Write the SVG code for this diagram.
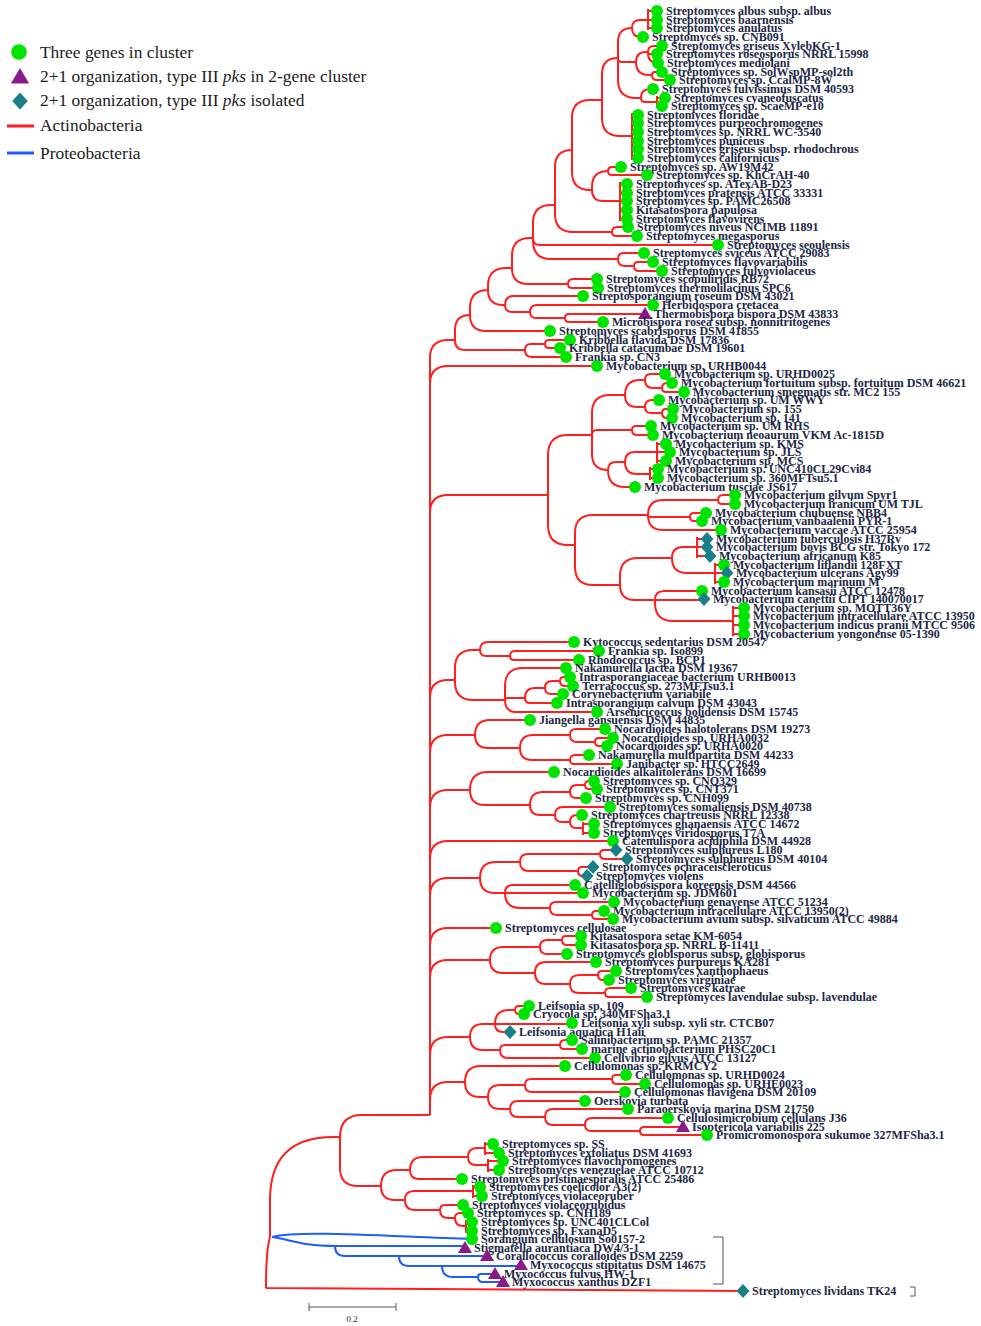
<svg xmlns="http://www.w3.org/2000/svg" xmlns:xlink="http://www.w3.org/1999/xlink" width="981" height="1326" viewBox="0 0 981 1326">
<style>
text{font-family:"Liberation Serif",serif;font-weight:bold;font-size:12px;fill:#1d2846}
.lg{font-weight:normal;font-size:17.4px;fill:#222}
.r{fill:none;stroke:#ff1f1f;stroke-width:2}
.b{fill:none;stroke:#1e5cff;stroke-width:2}
.k{fill:none;stroke:#555;stroke-width:1}
</style>
<defs>
<circle id="g" r="6" fill="#00e400"/>
<path id="t" d="M0,-7 L7,5 L-7,5Z" fill="#8b1a89"/>
<path id="d" d="M0,-7 L6.5,0 L0,7 L-6.5,0Z" fill="#1b7f87"/>
</defs>
<rect width="981" height="1326" fill="#fff"/>
<g id="legend">
<use href="#g" x="19" y="52" transform="translate(19 52) scale(1.3) translate(-19 -52)"/>
<text class="lg" x="40" y="58">Three genes in cluster</text>
<use href="#t" x="20" y="77" transform="translate(20 77) scale(1.3) translate(-20 -77)"/>
<text class="lg" x="40" y="82">2+1 organization, type III <tspan font-style="italic">pks</tspan> in 2-gene cluster</text>
<use href="#d" x="20" y="101" transform="translate(20 101) scale(1.2) translate(-20 -101)"/>
<text class="lg" x="40" y="106">2+1 organization, type III <tspan font-style="italic">pks</tspan> isolated</text>
<path d="M7 126 H34" stroke="#ff1f1f" stroke-width="3"/>
<text class="lg" x="40" y="131">Actinobacteria</text>
<path d="M7 153 H34" stroke="#1e5cff" stroke-width="3"/>
<text class="lg" x="40" y="159">Proteobacteria</text>
</g>
<g id="connectors">
<path class="r" d="M648 9 V30 M648 11 H657 M648 20 H657 M648 28 H657 M632 28 Q632 20 640 20 H648 M632 28 Q632 37 641 37 H643"/>
<path class="r" d="M648 52 Q648 46 654 46 H662 M648 52 Q648 54 650 54 H657 M648 52 V53 Q648 63 658 63 M652 75 Q652 72 655 72 H662 M652 75 Q652 80 657 80 H670 M636 62 Q636 52 646 52 H648 M636 62 Q636 75 649 75 H652"/>
<path class="r" d="M657 96 V108 M657 98 H665 M657 106 H662 M641 98 Q641 89 650 89 H653 M641 98 Q641 102 645 102 H657"/>
<path class="r" d="M618 58 V42 Q618 28 632 28 M618 58 Q618 62 622 62 H636 M618 58 V80 Q618 98 636 98 H641"/>
<path class="r" d="M632 113 V160 M632 115 H638 M632 123 H638 M632 132 H638 M632 141 H638 M632 149 H638 M632 158 H638 M602 100 V74 Q602 58 618 58 M602 100 V118 Q602 136 620 136 H632"/>
<path class="r" d="M608 171 Q608 167 612 167 H621 M608 171 Q608 175 612 175 H647 M620 182 V221 M620 184 H627 M620 193 H627 M620 201 H627 M620 210 H627 M620 219 H627 M592 190 V187 Q592 171 608 171 M592 190 Q592 201 603 201 H620"/>
<path class="r" d="M572 150 V118 Q572 100 590 100 H602 M572 150 V172 Q572 190 590 190 H592"/>
<path class="r" d="M612 232 Q612 227 617 227 H628 M612 232 Q612 236 616 236 H637 M555 205 V167 Q555 150 572 150 M555 205 V214 Q555 232 573 232 H612"/>
<path class="r" d="M634 266 Q634 262 638 262 H653 M634 266 Q634 271 639 271 H662 M618 259 Q618 253 624 253 H644 M618 259 Q618 266 625 266 H634"/>
<path class="r" d="M533 238 V223 Q533 205 551 205 H555 M533 238 Q533 245 540 245 H718 M533 238 V241 Q533 259 551 259 H618"/>
<path class="r" d="M568 284 Q568 279 573 279 H597 M568 284 Q568 288 572 288 H598 M512 268 V256 Q512 238 530 238 H533 M512 268 Q512 284 528 284 H568"/>
<path class="r" d="M565 318 Q565 314 569 314 H645 M565 318 Q565 322 569 322 H603 M530 312 Q530 305 537 305 H653 M530 312 Q530 318 536 318 H565 M505 305 Q505 296 514 296 H583 M505 305 Q505 312 512 312 H530"/>
<path class="r" d="M488 290 V286 Q488 268 506 268 H512 M488 290 Q488 305 503 305 H505 M470 315 V308 Q470 290 488 290 M470 315 Q470 331 486 331 H550"/>
<path class="r" d="M545 344 Q545 340 549 340 H570 M545 344 Q545 348 549 348 H560 M525 350 Q525 344 531 344 H545 M525 350 Q525 357 532 357 H566 M455 340 V330 Q455 315 470 315 M455 340 Q455 350 465 350 H525"/>
<path class="r" d="M662 388 Q662 383 667 383 H672 M662 388 Q662 392 666 392 H684 M645 380 Q645 374 651 374 H665 M645 380 Q645 388 653 388 H662 M662 413 Q662 409 666 409 H673 M662 413 Q662 418 667 418 H672 M645 407 Q645 400 652 400 H659 M645 407 Q645 413 651 413 H662 M625 395 Q625 380 640 380 H645 M625 395 Q625 407 637 407 H645"/>
<path class="r" d="M632 430 Q632 426 636 426 H651 M632 430 Q632 435 637 435 H653 M657 442 V463 M657 444 H666 M657 452 H670 M657 461 H666 M650 467 V480 M650 469 H658 M650 478 H658 M625 462 Q625 452 635 452 H657 M625 462 Q625 474 637 474 H650 M608 470 Q608 462 616 462 H625 M608 470 Q608 487 625 487 H635"/>
<path class="r" d="M592 435 V413 Q592 395 610 395 H625 M592 435 Q592 430 597 430 H632 M592 435 V454 Q592 470 608 470"/>
<path class="r" d="M718 500 Q718 495 723 495 H735 M718 500 Q718 504 722 504 H735 M690 517 Q690 513 694 513 H706 M690 517 Q690 521 694 521 H702 M648 515 Q648 500 663 500 H718 M648 515 Q648 517 650 517 H690 M648 515 Q648 530 663 530 H721"/>
<path class="r" d="M697 537 V558 M697 539 H707 M697 547 H707 M697 556 H710 M715 563 V584 M715 565 H724 M715 573 H727 M715 582 H724 M672 558 Q672 547 683 547 H697 M672 558 Q672 573 687 573 H715"/>
<path class="r" d="M733 606 V636 M733 608 H744 M733 616 H744 M733 625 H744 M733 634 H744 M655 600 Q655 591 664 591 H702 M655 600 H704 M655 600 V603 Q655 621 673 621 H733 M620 585 V576 Q620 558 638 558 H672 M620 585 Q620 600 635 600 H655"/>
<path class="r" d="M575 545 V533 Q575 515 593 515 H648 M575 545 V567 Q575 585 593 585 H620 M548 495 V455 Q548 435 568 435 H592 M548 495 V525 Q548 545 568 545 H575"/>
<path class="r" d="M510 656 Q510 651 515 651 H599 M510 656 Q510 660 514 660 H579 M480 650 Q480 642 488 642 H574 M480 650 Q480 656 486 656 H510"/>
<path class="r" d="M560 681 Q560 677 564 677 H570 M560 681 Q560 686 565 686 H573 M545 688 Q545 681 552 681 H560 M545 688 Q545 694 551 694 H563 M525 698 Q525 688 535 688 H545 M525 698 Q525 703 530 703 H557 M505 700 V686 Q505 668 523 668 H566 M505 700 Q505 698 507 698 H525 M505 700 Q505 712 517 712 H597 M455 680 V668 Q455 650 473 650 H480 M455 680 V682 Q455 700 473 700 H505"/>
<path class="r" d="M595 742 Q595 738 599 738 H613 M595 742 Q595 746 599 746 H607 M570 735 Q570 729 576 729 H605 M570 735 Q570 742 577 742 H595 M570 760 Q570 755 575 755 H589 M570 760 Q570 764 574 764 H617 M520 748 Q520 735 533 735 H570 M520 748 Q520 760 532 760 H570 M475 735 Q475 720 490 720 H530 M475 735 Q475 748 488 748 H520"/>
<path class="r" d="M585 785 Q585 781 589 781 H594 M585 785 Q585 789 589 789 H597 M570 792 Q570 785 577 785 H585 M570 792 Q570 798 576 798 H586 M583 822 V835 M583 824 H594 M583 833 H594 M570 822 Q570 815 577 815 H582 M570 822 Q570 828 576 828 H583 M555 815 Q555 807 563 807 H610 M555 815 Q555 822 562 822 H570 M530 805 Q530 792 543 792 H570 M530 805 Q530 815 540 815 H555 M470 790 Q470 772 488 772 H554 M470 790 Q470 805 485 805 H530"/>
<path class="r" d="M600 854 Q600 850 604 850 H616 M600 854 Q600 859 605 859 H627 M578 871 Q578 867 582 867 H593 M578 871 Q578 876 583 876 H587 M520 862 Q520 854 528 854 H600 M520 862 Q520 871 529 871 H578"/>
<path class="r" d="M592 915 Q592 911 596 911 H604 M592 915 Q592 919 596 919 H613 M550 908 Q550 902 556 902 H614 M550 908 Q550 915 557 915 H592 M505 893 Q505 885 513 885 H575 M505 893 H583 M505 893 Q505 908 520 908 H550 M480 878 Q480 862 496 862 H520 M480 878 Q480 893 495 893 H505"/>
<path class="r" d="M562 940 Q562 936 566 936 H581 M562 940 Q562 945 567 945 H581 M540 947 Q540 940 547 940 H562 M540 947 Q540 954 547 954 H567 M598 975 Q598 971 602 971 H616 M598 975 Q598 980 603 980 H609 M605 993 Q605 988 610 988 H631 M605 993 Q605 997 609 997 H647 M570 984 Q570 975 579 975 H598 M570 984 Q570 993 579 993 H605 M535 973 Q535 962 546 962 H596 M535 973 Q535 984 546 984 H570 M490 960 Q490 947 503 947 H540 M490 960 Q490 973 503 973 H535"/>
<path class="r" d="M515 1010 Q515 1006 519 1006 H529 M515 1010 Q515 1014 519 1014 H524 M495 1024 Q495 1010 509 1010 H515 M495 1024 H572 M495 1024 Q495 1032 503 1032 H510 M560 1045 Q560 1040 565 1040 H572 M560 1045 Q560 1049 564 1049 H582 M500 1050 Q500 1045 505 1045 H560 M500 1050 Q500 1058 508 1058 H595 M470 1037 Q470 1024 483 1024 H495 M470 1037 Q470 1050 483 1050 H500"/>
<path class="r" d="M612 1079 Q612 1075 616 1075 H626 M612 1079 Q612 1084 617 1084 H645 M525 1085 Q525 1079 531 1079 H612 M525 1085 Q525 1092 532 1092 H625 M640 1131 Q640 1127 644 1127 H683 M640 1131 Q640 1135 644 1135 H707 M585 1125 Q585 1118 592 1118 H668 M585 1125 Q585 1131 591 1131 H640 M545 1117 Q545 1109 553 1109 H628 M545 1117 Q545 1125 553 1125 H585 M510 1109 Q510 1101 518 1101 H585 M510 1109 Q510 1117 518 1117 H545 M488 1097 Q488 1085 500 1085 H525 M488 1097 Q488 1109 500 1109 H510 M465 1082 Q465 1066 481 1066 H565 M465 1082 Q465 1097 480 1097 H488"/>
<path class="r" d="M430 1115 V358 Q430 340 448 340 H455 M430 1115 V384 Q430 366 448 366 H597 M430 1115 V513 Q430 495 448 495 H548 M430 1115 V698 Q430 680 448 680 H455 M430 1115 V753 Q430 735 448 735 H475 M430 1115 V808 Q430 790 448 790 H470 M430 1115 V859 Q430 841 448 841 H613 M430 1115 V896 Q430 878 448 878 H480 M430 1115 V946 Q430 928 448 928 H496 M430 1115 V978 Q430 960 448 960 H490 M430 1115 V1055 Q430 1037 448 1037 H470 M430 1115 V1100 Q430 1082 448 1082 H465"/>
<path class="r" d="M485 1142 V1155 M485 1144 H493 M485 1153 H499 M488 1159 V1172 M488 1161 H503 M488 1170 H499 M468 1157 Q468 1148 477 1148 H485 M468 1157 Q468 1165 476 1165 H488 M410 1170 Q410 1157 423 1157 H468 M410 1170 Q410 1179 419 1179 H462"/>
<path class="r" d="M473 1185 V1198 M473 1187 H480 M473 1196 H482 M466 1220 V1233 M466 1222 H472 M466 1231 H472 M455 1218 Q455 1213 460 1213 H468 M455 1218 Q455 1226 463 1226 H466 M440 1210 Q440 1205 445 1205 H463 M440 1210 Q440 1218 448 1218 H455 M405 1200 Q405 1191 414 1191 H473 M405 1200 Q405 1210 415 1210 H440 M381 1186 Q381 1170 397 1170 H410 M381 1186 Q381 1200 395 1200 H405"/>
<path class="r" d="M340 1137 V1168 Q340 1186 358 1186 H381 M340 1137 Q340 1115 362 1115 H430 M270 1237 V1200 Q270 1137 333 1137 H340 M266 1288 Q266 1250 270 1237 M266 1288 L743 1291"/>
<path class="b" d="M272 1237 C300 1230 380 1236 472 1239 M272 1237 C292 1240 302 1246 335 1246 M335 1246 H465 M335 1246 Q335 1256 345 1256 H399 M399 1256 H487 M399 1256 Q399 1266 409 1266 H442 M442 1266 H521 M442 1266 Q442 1277 453 1277 H478 M478 1277 Q478 1274 481 1274 H495 M478 1277 Q478 1282 483 1282 H503"/>
<path class="k" d="M713 1237 H723 V1284 H713 M910 1287 H915 V1296 H910"/>
</g>
<g id="scale"><path class="k" d="M309 1307 H396 M309 1303 V1311 M396 1303 V1311"/><text x="352" y="1322" text-anchor="middle" style="font-size:9px;font-weight:normal">0.2</text></g>
<g id="L0"><use href="#g" x="657" y="11"/><text x="666" y="15">Streptomyces albus subsp. albus</text></g>
<g id="L1"><use href="#g" x="657" y="20"/><text x="666" y="24">Streptomyces baarnensis</text></g>
<g id="L2"><use href="#g" x="657" y="28"/><text x="666" y="32">Streptomyces anulatus</text></g>
<g id="L3"><use href="#g" x="643" y="37"/><text x="652" y="41">Streptomyces sp. CNB091</text></g>
<g id="L4"><use href="#g" x="662" y="46"/><text x="671" y="50">Streptomyces griseus XylebKG-1</text></g>
<g id="L5"><use href="#g" x="657" y="54"/><text x="666" y="58">Streptomyces roseosporus NRRL 15998</text></g>
<g id="L6"><use href="#g" x="658" y="63"/><text x="667" y="67">Streptomyces mediolani</text></g>
<g id="L7"><use href="#g" x="662" y="72"/><text x="671" y="76">Streptomyces sp. SolWspMP-sol2th</text></g>
<g id="L8"><use href="#g" x="670" y="80"/><text x="679" y="84">Streptomyces sp. CcalMP-8W</text></g>
<g id="L9"><use href="#g" x="653" y="89"/><text x="662" y="93">Streptomyces fulvissimus DSM 40593</text></g>
<g id="L10"><use href="#g" x="665" y="98"/><text x="674" y="102">Streptomyces cyaneofuscatus</text></g>
<g id="L11"><use href="#g" x="662" y="106"/><text x="671" y="110">Streptomyces sp. ScaeMP-e10</text></g>
<g id="L12"><use href="#g" x="638" y="115"/><text x="647" y="119">Streptomyces floridae</text></g>
<g id="L13"><use href="#g" x="638" y="123"/><text x="647" y="127">Streptomyces purpeochromogenes</text></g>
<g id="L14"><use href="#g" x="638" y="132"/><text x="647" y="136">Streptomyces sp. NRRL WC-3540</text></g>
<g id="L15"><use href="#g" x="638" y="141"/><text x="647" y="145">Streptomyces puniceus</text></g>
<g id="L16"><use href="#g" x="638" y="149"/><text x="647" y="153">Streptomyces griseus subsp. rhodochrous</text></g>
<g id="L17"><use href="#g" x="638" y="158"/><text x="647" y="162">Streptomyces californicus</text></g>
<g id="L18"><use href="#g" x="621" y="167"/><text x="630" y="171">Streptomyces sp. AW19M42</text></g>
<g id="L19"><use href="#g" x="647" y="175"/><text x="656" y="179">Streptomyces sp. KhCrAH-40</text></g>
<g id="L20"><use href="#g" x="627" y="184"/><text x="636" y="188">Streptomyces sp. ATexAB-D23</text></g>
<g id="L21"><use href="#g" x="627" y="193"/><text x="636" y="197">Streptomyces pratensis ATCC 33331</text></g>
<g id="L22"><use href="#g" x="627" y="201"/><text x="636" y="205">Streptomyces sp. PAMC26508</text></g>
<g id="L23"><use href="#g" x="627" y="210"/><text x="636" y="214">Kitasatospora papulosa</text></g>
<g id="L24"><use href="#g" x="627" y="219"/><text x="636" y="223">Streptomyces flavovirens</text></g>
<g id="L25"><use href="#g" x="628" y="227"/><text x="637" y="231">Streptomyces niveus NCIMB 11891</text></g>
<g id="L26"><use href="#g" x="637" y="236"/><text x="646" y="240">Streptomyces megasporus</text></g>
<g id="L27"><use href="#g" x="718" y="245"/><text x="727" y="249">Streptomyces seoulensis</text></g>
<g id="L28"><use href="#g" x="644" y="253"/><text x="653" y="257">Streptomyces sviceus ATCC 29083</text></g>
<g id="L29"><use href="#g" x="653" y="262"/><text x="662" y="266">Streptomyces flavovariabilis</text></g>
<g id="L30"><use href="#g" x="662" y="271"/><text x="671" y="275">Streptomyces fulvoviolaceus</text></g>
<g id="L31"><use href="#g" x="597" y="279"/><text x="606" y="283">Streptomyces scopuliridis RB72</text></g>
<g id="L32"><use href="#g" x="598" y="288"/><text x="607" y="292">Streptomyces thermolilacinus SPC6</text></g>
<g id="L33"><use href="#g" x="583" y="296"/><text x="592" y="300">Streptosporangium roseum DSM 43021</text></g>
<g id="L34"><use href="#g" x="653" y="305"/><text x="662" y="309">Herbidospora cretacea</text></g>
<g id="L35"><use href="#t" x="645" y="314"/><text x="654" y="318">Thermobispora bispora DSM 43833</text></g>
<g id="L36"><use href="#g" x="603" y="322"/><text x="612" y="326">Microbispora rosea subsp. nonnitritogenes</text></g>
<g id="L37"><use href="#g" x="550" y="331"/><text x="559" y="335">Streptomyces scabrisporus DSM 41855</text></g>
<g id="L38"><use href="#g" x="570" y="340"/><text x="579" y="344">Kribbella flavida DSM 17836</text></g>
<g id="L39"><use href="#g" x="560" y="348"/><text x="569" y="352">Kribbella catacumbae DSM 19601</text></g>
<g id="L40"><use href="#g" x="566" y="357"/><text x="575" y="361">Frankia sp. CN3</text></g>
<g id="L41"><use href="#g" x="597" y="366"/><text x="606" y="370">Mycobacterium sp. URHB0044</text></g>
<g id="L42"><use href="#g" x="665" y="374"/><text x="674" y="378">Mycobacterium sp. URHD0025</text></g>
<g id="L43"><use href="#g" x="672" y="383"/><text x="681" y="387">Mycobacterium fortuitum subsp. fortuitum DSM 46621</text></g>
<g id="L44"><use href="#g" x="684" y="392"/><text x="693" y="396">Mycobacterium smegmatis str. MC2 155</text></g>
<g id="L45"><use href="#g" x="659" y="400"/><text x="668" y="404">Mycobacterium sp. UM WWY</text></g>
<g id="L46"><use href="#g" x="673" y="409"/><text x="682" y="413">Mycobacterium sp. 155</text></g>
<g id="L47"><use href="#g" x="672" y="418"/><text x="681" y="422">Mycobacterium sp. 141</text></g>
<g id="L48"><use href="#g" x="651" y="426"/><text x="660" y="430">Mycobacterium sp. UM RHS</text></g>
<g id="L49"><use href="#g" x="653" y="435"/><text x="662" y="439">Mycobacterium neoaurum VKM Ac-1815D</text></g>
<g id="L50"><use href="#g" x="666" y="444"/><text x="675" y="448">Mycobacterium sp. KMS</text></g>
<g id="L51"><use href="#g" x="670" y="452"/><text x="679" y="456">Mycobacterium sp. JLS</text></g>
<g id="L52"><use href="#g" x="666" y="461"/><text x="675" y="465">Mycobacterium sp. MCS</text></g>
<g id="L53"><use href="#g" x="658" y="469"/><text x="667" y="473">Mycobacterium sp. UNC410CL29Cvi84</text></g>
<g id="L54"><use href="#g" x="658" y="478"/><text x="667" y="482">Mycobacterium sp. 360MFTsu5.1</text></g>
<g id="L55"><use href="#g" x="635" y="487"/><text x="644" y="491">Mycobacterium tusciae JS617</text></g>
<g id="L56"><use href="#g" x="735" y="495"/><text x="744" y="499">Mycobacterium gilvum Spyr1</text></g>
<g id="L57"><use href="#g" x="735" y="504"/><text x="744" y="508">Mycobacterium iranicum UM TJL</text></g>
<g id="L58"><use href="#g" x="706" y="513"/><text x="715" y="517">Mycobacterium chubuense NBB4</text></g>
<g id="L59"><use href="#g" x="702" y="521"/><text x="711" y="525">Mycobacterium vanbaalenii PYR-1</text></g>
<g id="L60"><use href="#g" x="721" y="530"/><text x="730" y="534">Mycobacterium vaccae ATCC 25954</text></g>
<g id="L61"><use href="#d" x="707" y="539"/><text x="716" y="543">Mycobacterium tuberculosis H37Rv</text></g>
<g id="L62"><use href="#d" x="707" y="547"/><text x="716" y="551">Mycobacterium bovis BCG str. Tokyo 172</text></g>
<g id="L63"><use href="#d" x="710" y="556"/><text x="719" y="560">Mycobacterium africanum K85</text></g>
<g id="L64"><use href="#g" x="724" y="565"/><text x="733" y="569">Mycobacterium liflandii 128FXT</text></g>
<g id="L65"><use href="#d" x="727" y="573"/><text x="736" y="577">Mycobacterium ulcerans Agy99</text></g>
<g id="L66"><use href="#g" x="724" y="582"/><text x="733" y="586">Mycobacterium marinum M</text></g>
<g id="L67"><use href="#g" x="702" y="591"/><text x="711" y="595">Mycobacterium kansasii ATCC 12478</text></g>
<g id="L68"><use href="#d" x="704" y="599"/><text x="713" y="603">Mycobacterium canettii CIPT 140070017</text></g>
<g id="L69"><use href="#g" x="744" y="608"/><text x="753" y="612">Mycobacterium sp. MOTT36Y</text></g>
<g id="L70"><use href="#g" x="744" y="616"/><text x="753" y="620">Mycobacterium intracellulare ATCC 13950</text></g>
<g id="L71"><use href="#g" x="744" y="625"/><text x="753" y="629">Mycobacterium indicus pranii MTCC 9506</text></g>
<g id="L72"><use href="#g" x="744" y="634"/><text x="753" y="638">Mycobacterium yongonense 05-1390</text></g>
<g id="L73"><use href="#g" x="574" y="642"/><text x="583" y="646">Kytococcus sedentarius DSM 20547</text></g>
<g id="L74"><use href="#g" x="599" y="651"/><text x="608" y="655">Frankia sp. Iso899</text></g>
<g id="L75"><use href="#g" x="579" y="660"/><text x="588" y="664">Rhodococcus sp. BCP1</text></g>
<g id="L76"><use href="#g" x="566" y="668"/><text x="575" y="672">Nakamurella lactea DSM 19367</text></g>
<g id="L77"><use href="#g" x="570" y="677"/><text x="579" y="681">Intrasporangiaceae bacterium URHB0013</text></g>
<g id="L78"><use href="#g" x="573" y="686"/><text x="582" y="690">Terracoccus sp. 273MFTsu3.1</text></g>
<g id="L79"><use href="#g" x="563" y="694"/><text x="572" y="698">Corynebacterium variabile</text></g>
<g id="L80"><use href="#g" x="557" y="703"/><text x="566" y="707">Intrasporangium calvum DSM 43043</text></g>
<g id="L81"><use href="#g" x="597" y="712"/><text x="606" y="716">Arsenicicoccus bolidensis DSM 15745</text></g>
<g id="L82"><use href="#g" x="530" y="720"/><text x="539" y="724">Jiangella gansuensis DSM 44835</text></g>
<g id="L83"><use href="#g" x="605" y="729"/><text x="614" y="733">Nocardioides halotolerans DSM 19273</text></g>
<g id="L84"><use href="#g" x="613" y="738"/><text x="622" y="742">Nocardioides sp. URHA0032</text></g>
<g id="L85"><use href="#g" x="607" y="746"/><text x="616" y="750">Nocardioides sp. URHA0020</text></g>
<g id="L86"><use href="#g" x="589" y="755"/><text x="598" y="759">Nakamurella multipartita DSM 44233</text></g>
<g id="L87"><use href="#g" x="617" y="764"/><text x="626" y="768">Janibacter sp. HTCC2649</text></g>
<g id="L88"><use href="#g" x="554" y="772"/><text x="563" y="776">Nocardioides alkalitolerans DSM 16699</text></g>
<g id="L89"><use href="#g" x="594" y="781"/><text x="603" y="785">Streptomyces sp. CNQ329</text></g>
<g id="L90"><use href="#g" x="597" y="789"/><text x="606" y="793">Streptomyces sp. CNT371</text></g>
<g id="L91"><use href="#g" x="586" y="798"/><text x="595" y="802">Streptomyces sp. CNH099</text></g>
<g id="L92"><use href="#g" x="610" y="807"/><text x="619" y="811">Streptomyces somaliensis DSM 40738</text></g>
<g id="L93"><use href="#g" x="582" y="815"/><text x="591" y="819">Streptomyces chartreusis NRRL 12338</text></g>
<g id="L94"><use href="#g" x="594" y="824"/><text x="603" y="828">Streptomyces ghanaensis ATCC 14672</text></g>
<g id="L95"><use href="#g" x="594" y="833"/><text x="603" y="837">Streptomyces viridosporus T7A</text></g>
<g id="L96"><use href="#g" x="613" y="841"/><text x="622" y="845">Catenulispora acidiphila DSM 44928</text></g>
<g id="L97"><use href="#d" x="616" y="850"/><text x="625" y="854">Streptomyces sulphureus L180</text></g>
<g id="L98"><use href="#d" x="627" y="859"/><text x="636" y="863">Streptomyces sulphureus DSM 40104</text></g>
<g id="L99"><use href="#d" x="593" y="867"/><text x="602" y="871">Streptomyces ochraceiscleroticus</text></g>
<g id="L100"><use href="#d" x="587" y="876"/><text x="596" y="880">Streptomyces violens</text></g>
<g id="L101"><use href="#g" x="575" y="885"/><text x="584" y="889">Catelliglobosispora koreensis DSM 44566</text></g>
<g id="L102"><use href="#g" x="583" y="893"/><text x="592" y="897">Mycobacterium sp. JDM601</text></g>
<g id="L103"><use href="#g" x="614" y="902"/><text x="623" y="906">Mycobacterium genavense ATCC 51234</text></g>
<g id="L104"><use href="#g" x="604" y="911"/><text x="613" y="915">Mycobacterium intracellulare ATCC 13950(2)</text></g>
<g id="L105"><use href="#g" x="613" y="919"/><text x="622" y="923">Mycobacterium avium subsp. silvaticum ATCC 49884</text></g>
<g id="L106"><use href="#g" x="496" y="928"/><text x="505" y="932">Streptomyces cellulosae</text></g>
<g id="L107"><use href="#g" x="581" y="936"/><text x="590" y="940">Kitasatospora setae KM-6054</text></g>
<g id="L108"><use href="#g" x="581" y="945"/><text x="590" y="949">Kitasatospora sp. NRRL B-11411</text></g>
<g id="L109"><use href="#g" x="567" y="954"/><text x="576" y="958">Streptomyces globisporus subsp. globisporus</text></g>
<g id="L110"><use href="#g" x="596" y="962"/><text x="605" y="966">Streptomyces purpureus KA281</text></g>
<g id="L111"><use href="#g" x="616" y="971"/><text x="625" y="975">Streptomyces xanthophaeus</text></g>
<g id="L112"><use href="#g" x="609" y="980"/><text x="618" y="984">Streptomyces virginiae</text></g>
<g id="L113"><use href="#g" x="631" y="988"/><text x="640" y="992">Streptomyces katrae</text></g>
<g id="L114"><use href="#g" x="647" y="997"/><text x="656" y="1001">Streptomyces lavendulae subsp. lavendulae</text></g>
<g id="L115"><use href="#g" x="529" y="1006"/><text x="538" y="1010">Leifsonia sp. 109</text></g>
<g id="L116"><use href="#g" x="524" y="1014"/><text x="533" y="1018">Cryocola sp. 340MFSha3.1</text></g>
<g id="L117"><use href="#g" x="572" y="1023"/><text x="581" y="1027">Leifsonia xyli subsp. xyli str. CTCB07</text></g>
<g id="L118"><use href="#d" x="510" y="1032"/><text x="519" y="1036">Leifsonia aquatica H1aii</text></g>
<g id="L119"><use href="#g" x="572" y="1040"/><text x="581" y="1044">Salinibacterium sp. PAMC 21357</text></g>
<g id="L120"><use href="#g" x="582" y="1049"/><text x="591" y="1053">marine actinobacterium PHSC20C1</text></g>
<g id="L121"><use href="#g" x="595" y="1058"/><text x="604" y="1062">Cellvibrio gilvus ATCC 13127</text></g>
<g id="L122"><use href="#g" x="565" y="1066"/><text x="574" y="1070">Cellulomonas sp. KRMCY2</text></g>
<g id="L123"><use href="#g" x="626" y="1075"/><text x="635" y="1079">Cellulomonas sp. URHD0024</text></g>
<g id="L124"><use href="#g" x="645" y="1084"/><text x="654" y="1088">Cellulomonas sp. URHE0023</text></g>
<g id="L125"><use href="#g" x="625" y="1092"/><text x="634" y="1096">Cellulomonas flavigena DSM 20109</text></g>
<g id="L126"><use href="#g" x="585" y="1101"/><text x="594" y="1105">Oerskovia turbata</text></g>
<g id="L127"><use href="#g" x="628" y="1109"/><text x="637" y="1113">Paraoerskovia marina DSM 21750</text></g>
<g id="L128"><use href="#g" x="668" y="1118"/><text x="677" y="1122">Cellulosimicrobium cellulans J36</text></g>
<g id="L129"><use href="#t" x="683" y="1127"/><text x="692" y="1131">Isoptericola variabilis 225</text></g>
<g id="L130"><use href="#g" x="707" y="1135"/><text x="716" y="1139">Promicromonospora sukumoe 327MFSha3.1</text></g>
<g id="L131"><use href="#g" x="493" y="1144"/><text x="502" y="1148">Streptomyces sp. SS</text></g>
<g id="L132"><use href="#g" x="499" y="1153"/><text x="508" y="1157">Streptomyces exfoliatus DSM 41693</text></g>
<g id="L133"><use href="#g" x="503" y="1161"/><text x="512" y="1165">Streptomyces flavochromogenes</text></g>
<g id="L134"><use href="#g" x="499" y="1170"/><text x="508" y="1174">Streptomyces venezuelae ATCC 10712</text></g>
<g id="L135"><use href="#g" x="462" y="1179"/><text x="471" y="1183">Streptomyces pristinaespiralis ATCC 25486</text></g>
<g id="L136"><use href="#g" x="480" y="1187"/><text x="489" y="1191">Streptomyces coelicolor A3(2)</text></g>
<g id="L137"><use href="#g" x="482" y="1196"/><text x="491" y="1200">Streptomyces violaceoruber</text></g>
<g id="L138"><use href="#g" x="463" y="1205"/><text x="472" y="1209">Streptomyces violaceorubidus</text></g>
<g id="L139"><use href="#g" x="468" y="1213"/><text x="477" y="1217">Streptomyces sp. CNH189</text></g>
<g id="L140"><use href="#g" x="472" y="1222"/><text x="481" y="1226">Streptomyces sp. UNC401CLCol</text></g>
<g id="L141"><use href="#g" x="472" y="1231"/><text x="481" y="1235">Streptomyces sp. FxanaD5</text></g>
<g id="L142"><use href="#g" x="472" y="1239"/><text x="481" y="1243">Sorangium cellulosum So0157-2</text></g>
<g id="L143"><use href="#t" x="465" y="1248"/><text x="474" y="1252">Stigmatella aurantiaca DW4/3-1</text></g>
<g id="L144"><use href="#t" x="487" y="1256"/><text x="496" y="1260">Corallococcus coralloides DSM 2259</text></g>
<g id="L145"><use href="#t" x="521" y="1265"/><text x="530" y="1269">Myxococcus stipitatus DSM 14675</text></g>
<g id="L146"><use href="#t" x="495" y="1274"/><text x="504" y="1278">Myxococcus fulvus HW-1</text></g>
<g id="L147"><use href="#t" x="503" y="1282"/><text x="512" y="1286">Myxococcus xanthus DZF1</text></g>
<g id="L148"><use href="#d" x="743" y="1291"/><text x="752" y="1295">Streptomyces lividans TK24</text></g>
</svg>
